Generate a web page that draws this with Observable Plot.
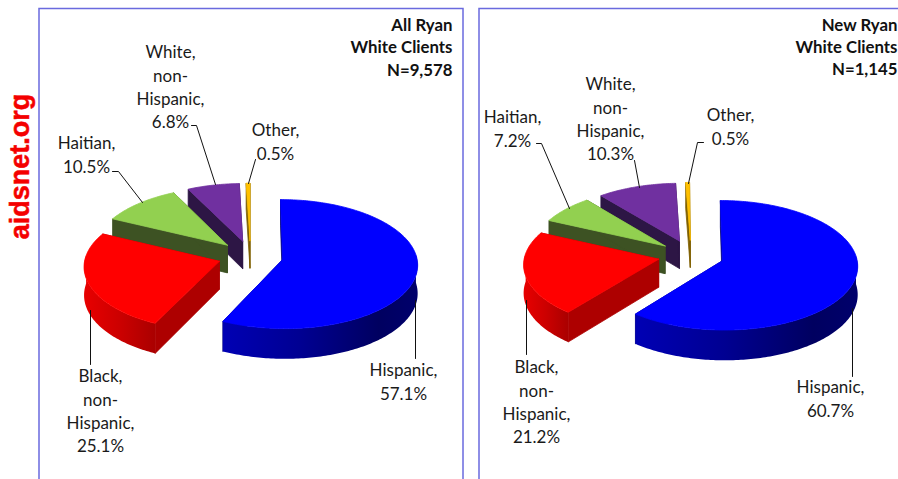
<!DOCTYPE html>
<html>
<head>
<meta charset="utf-8">
<script src="https://cdn.jsdelivr.net/npm/d3@7"></script>
<script src="https://cdn.jsdelivr.net/npm/@observablehq/plot@0.6"></script>
<style>
html,body{margin:0;padding:0;background:#fff;overflow:hidden}
svg{display:block}
</style>
</head>
<body>
<div id="chart"></div>
<script>
// ---- data ----
const categories = ["Hispanic", "Black, non-Hispanic", "Haitian", "White, non-Hispanic", "Other"];
const allClients = [57.1, 25.1, 10.5, 6.8, 0.5];
const newClients = [60.7, 21.2, 7.2, 10.3, 0.5];
const labelStems = ["Hispanic,", "Black,\nnon-\nHispanic,", "Haitian,", "White,\nnon-\nHispanic,", "Other,"];
const panelTitles = ["All Ryan\nWhite Clients\nN=9,578", "New Ryan\nWhite Clients\nN=1,145"];
const watermark = "aidsnet.org";

// ---- styling and layout (not data) ----
const topColors = ["#0000ff", "#ff0000", "#92d050", "#7030a0", "#ffc000"];
const faceColors = ["#00007a", "#ad0000", "#3d5223", "#2d1645", "#7f6000"];
const rimStops = [
  [[0, "#0000b4"], [0.4, "#000092"], [0.8, "#000060"], [1, "#00006c"]],
  [[0, "#e80000"], [0.5, "#cc0000"], [1, "#aa0000"]],
  [[0, "#3d5223"], [1, "#3d5223"]],
  [[0, "#2d1645"], [1, "#2d1645"]],
  [[0, "#7f6000"], [1, "#7f6000"]]
];
const panels = [
  {shares: allClients, cx: 250, cy: 255.6, e: 0.245, title: [452, 15],
   labels: [[403, 366], [100, 372], [86, 139], [170, 48], [275, 126]],
   leaders: [[[415, 300], [415, 358]], [[90, 310], [90, 364]], [[112, 171], [118, 171], [142, 202]], [[191, 125], [196, 125], [215, 184]], [[255, 159], [248, 183]]]},
  {shares: newClients, cx: 690.5, cy: 255, e: 0.247, title: [897, 14.5],
   labels: [[830, 383], [536, 363], [512, 113], [610, 80], [730, 111]],
   leaders: [[[852, 308], [852, 376]], [[526, 300], [526, 354]], [[536, 143], [541, 143], [569, 208]], [[634, 160], [639, 187]], [[703, 142], [697, 142], [688, 183]]]}
];
const kx = 134, ky = 63.7, persp = 0.07, thick = 28;

// project a point of the pie's plane (and its depth) through the chart's perspective
function project(p, X, Y, down) {
  const d = 1 - persp * Y;
  return {x: p.cx + kx * X / d, y: p.cy + ky * Y / d + (down ? thick / d : 0)};
}
const rad = deg => deg * Math.PI / 180;
const closed = pts => [...pts, pts[0]];

const pieMarks = [];
panels.forEach(p => {
  // start angles of the slices, clockwise from 12 o'clock
  let acc = 0;
  const slices = p.shares.map((s, i) => {
    const a0 = acc; acc += s * 3.6;
    return {i, a0, a1: acc};
  });
  // painter's order: farthest slice first, blue last
  [...slices].reverse().forEach(({i, a0, a1}) => {
    const mid = rad((a0 + a1) / 2);
    const ox = p.e * Math.sin(mid), oy = -p.e * Math.cos(mid);
    const steps = Math.max(2, Math.ceil(a1 - a0));
    const angles = d3.range(steps + 1).map(k => a0 + (a1 - a0) * k / steps);
    const rimPoint = (a, down) => project(p, ox + Math.sin(rad(a)), oy - Math.cos(rad(a)), down);
    const apex = down => project(p, ox, oy, down);
    const line = (pts, fill, stroke) => Plot.line(closed(pts), {x: "x", y: "y", fill, stroke, strokeWidth: 0.8, strokeLinejoin: "round"});
    // cut faces
    pieMarks.push(line([apex(false), rimPoint(a0, false), rimPoint(a0, true), apex(true)], faceColors[i], faceColors[i]));
    pieMarks.push(line([apex(false), rimPoint(a1, false), rimPoint(a1, true), apex(true)], faceColors[i], faceColors[i]));
    // outer rim: only the part that faces the viewer
    const front = angles.filter(a => -Math.cos(rad(a)) > -0.09);
    if (front.length > 1) {
      pieMarks.push(line([...front.map(a => rimPoint(a, false)), ...[...front].reverse().map(a => rimPoint(a, true))], `url(#rim-${i})`, "none"));
    }
    // top surface
    pieMarks.push(line([apex(false), ...angles.map(a => rimPoint(a, false))], topColors[i], topColors[i]));
  });
});

const gradients = () => {
  const defs = d3.create("svg:defs");
  rimStops.forEach((stops, i) => {
    const g = defs.append("linearGradient").attr("id", `rim-${i}`).attr("x1", 0).attr("x2", 1).attr("y1", 0).attr("y2", 0);
    stops.forEach(([o, c]) => g.append("stop").attr("offset", o).attr("stop-color", c));
  });
  return defs.node();
};

const labelRows = panels.flatMap(p => p.shares.map((s, i) => ({
  x: p.labels[i][0], y: p.labels[i][1] - 6.5, text: `${labelStems[i]}\n${s}%`
})));
const leaderRows = panels.flatMap((p, pi) => p.leaders.flatMap((pts, i) =>
  pts.map(([x, y]) => ({id: `${pi}-${i}`, x, y}))));
const titleRows = panels.map((p, i) => ({x: p.title[0], y: p.title[1], text: panelTitles[i]}));
const frames = [{x1: 39, x2: 463, y1: 8.5, y2: 500}, {x1: 479, x2: 920, y1: 8.5, y2: 500}];

const font = "Lato, Carlito, 'Open Sans', sans-serif";
const chart = Plot.plot({
  width: 898, height: 479, margin: 0,
  x: {domain: [0, 898], range: [0, 898], axis: null},
  y: {domain: [0, 479], range: [0, 479], axis: null},
  style: {background: "#fff"},
  marks: [
    gradients,
    Plot.rect(frames, {x1: "x1", x2: "x2", y1: "y1", y2: "y2", fill: "none", stroke: "#6a6ade", strokeWidth: 1.5}),
    ...pieMarks,
    Plot.line(leaderRows, {x: "x", y: "y", z: "id", stroke: "#111", strokeWidth: 1}),
    Plot.text(labelRows, {x: "x", y: "y", text: "text", fontSize: 17, lineHeight: 1.36, lineAnchor: "top", textAnchor: "middle", fill: "#1a1a1a", fontFamily: font}),
    Plot.text(titleRows, {x: "x", y: "y", text: "text", fontSize: 16.8, fontWeight: 700, lineHeight: 1.32, lineAnchor: "top", textAnchor: "end", fill: "#111", fontFamily: font}),
    Plot.text([watermark], {x: () => 20, y: () => 166, text: d => d, rotate: -90, fontSize: 27, fontWeight: 700, fill: "#f40000", stroke: "#f40000", strokeWidth: 0.5, textAnchor: "middle", lineAnchor: "middle", fontFamily: "'Liberation Sans', Arial, sans-serif"})
  ]
});
document.getElementById("chart").append(chart);
</script>
</body>
</html>
